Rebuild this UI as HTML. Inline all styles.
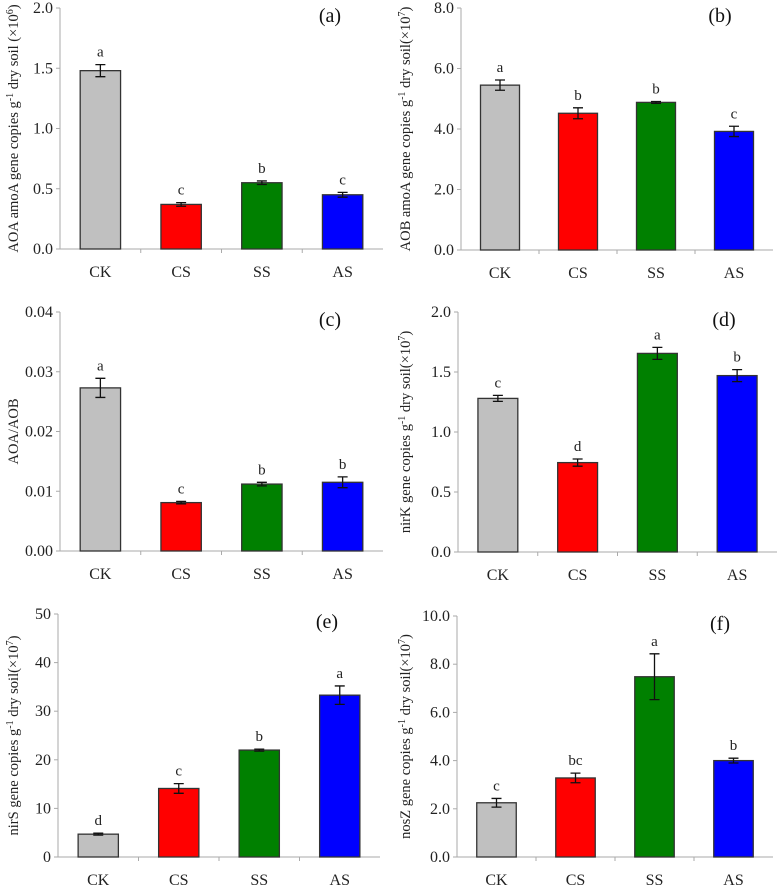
<!DOCTYPE html>
<html><head><meta charset="utf-8"><style>
body{margin:0;background:#fff}
svg{display:block;font-family:"Liberation Serif",serif}
</style></head><body>
<svg id="chart" width="778" height="885" viewBox="0 0 778 885"></svg>
<script>
const categories = ["CK","CS","SS","AS"];
const colors = ["#c0c0c0","#ff0000","#008000","#0000ff"];
const valsA = [1.48,0.37,0.55,0.45];
const errA = [0.05,0.015,0.015,0.02];
const letA = ["a","c","b","c"];
const valsB = [5.45,4.52,4.88,3.92];
const errB = [0.17,0.18,0.03,0.17];
const letB = ["a","b","b","c"];
const valsC = [0.0273,0.0081,0.0112,0.0115];
const errC = [0.0016,0.0002,0.0003,0.0009];
const letC = ["a","c","b","b"];
const valsD = [1.28,0.745,1.655,1.47];
const errD = [0.025,0.03,0.05,0.05];
const letD = ["c","d","a","b"];
const valsE = [4.7,14.1,22.0,33.3];
const errE = [0.2,1.0,0.2,1.9];
const letE = ["d","c","b","a"];
const valsF = [2.25,3.28,7.48,4.0];
const errF = [0.18,0.2,0.95,0.1];
const letF = ["c","bc","a","b"];
const ticksA = [0,0.5,1.0,1.5,2.0];
const ticksB = [0,2,4,6,8];
const ticksC = [0,0.01,0.02,0.03,0.04];
const ticksD = [0,0.5,1.0,1.5,2.0];
const ticksE = [0,10,20,30,40,50];
const ticksF = [0,2,4,6,8,10];

const NS="http://www.w3.org/2000/svg";
const svg=document.getElementById('chart');
function mk(tag,attrs,parent,text){const e=document.createElementNS(NS,tag);for(const k in attrs)e.setAttribute(k,attrs[k]);if(text!==undefined)e.textContent=text;parent.appendChild(e);return e;}

function panel(id,g,vals,errs,lets,ticks,dec,title,sup,tx){
  const grp=mk('g',{},svg);
  
  
  const max=ticks[ticks.length-1];
  const y=v=>g.yb-(v/max)*(g.yb-g.yt);
  const slot=(g.x1-g.x0)/categories.length;
  const xc=i=>g.x0+slot*(i+0.5);
  const ya=mk('line',{x1:g.x0,y1:g.yt,x2:g.x0,y2:g.yb,stroke:'#aaa','stroke-width':1},grp);
  
  
  const xa=mk('line',{x1:g.x0,y1:g.yb,x2:g.x1,y2:g.yb,stroke:'#aaa','stroke-width':1},grp);
  
  
  ticks.forEach(t=>{
    mk('line',{x1:g.x0-4,y1:y(t),x2:g.x0,y2:y(t),stroke:'#aaa'},grp);
    const tl=mk('text',{x:g.x0-7,y:y(t)+5,'text-anchor':'end','font-size':16,fill:'#222'},grp,t.toFixed(dec));
    
    
  });
  for(let i=1;i<categories.length;i++){
    mk('line',{x1:g.x0+slot*i,y1:g.yb,x2:g.x0+slot*i,y2:g.yb+4,stroke:'#aaa'},grp);
  }
  categories.forEach((c,i)=>{
    const bw=slot*0.5;
    const b=mk('rect',{x:xc(i)-bw/2,y:y(vals[i]),width:bw,height:g.yb-y(vals[i]),fill:colors[i],stroke:'#333','stroke-width':1.3},grp);
    
    
    const top=y(vals[i]+errs[i]),bot=y(vals[i]-errs[i]);
    const eb=mk('path',{d:`M${xc(i)-5},${top}H${xc(i)+5}M${xc(i)},${top}V${bot}M${xc(i)-5},${bot}H${xc(i)+5}`,stroke:'#111','stroke-width':1.3,fill:'none'},grp);
    
    
    const lt=mk('text',{x:xc(i),y:top-8,'text-anchor':'middle','font-size':15,fill:'#222'},grp,lets[i]);
    
    
    const cl=mk('text',{x:xc(i),y:g.yb+28,'text-anchor':'middle','font-size':16,fill:'#222'},grp,c);
    
    
  });
  const pl=mk('text',{x:g.x1-53,y:g.yt+14,'text-anchor':'middle','font-size':20,fill:'#111'},grp,'('+id+')');
  
  
  const cy=(g.yt+g.yb)/2;
  const t=mk('text',{x:0,y:0,'text-anchor':'middle','font-size':14.5,fill:'#222',transform:`translate(${tx},${cy}) rotate(-90)`},grp);
  
  
  if(sup){
    mk('tspan',{},t,title[0]);
    mk('tspan',{'baseline-shift':'super','font-size':10},t,'-1');
    mk('tspan',{},t,title[1]);
    mk('tspan',{'baseline-shift':'super','font-size':10},t,sup);
    mk('tspan',{},t,')');
  } else t.textContent=title;
}
panel('a',{x0:60,x1:383,yt:8,yb:249},valsA,errA,letA,ticksA,1,['AOA amoA gene copies g',' dry soil (×10'],'6',18);
panel('b',{x0:461,x1:773,yt:8,yb:250},valsB,errB,letB,ticksB,1,['AOB amoA gene copies g',' dry soil(×10'],'7',410);
panel('c',{x0:60,x1:383,yt:312,yb:551},valsC,errC,letC,ticksC,2,'AOA/AOB',null,18);
panel('d',{x0:458,x1:777,yt:312,yb:552},valsD,errD,letD,ticksD,1,['nirK gene copies g',' dry soil(×10'],'7',410);
panel('e',{x0:58,x1:380,yt:614,yb:857},valsE,errE,letE,ticksE,0,['nirS gene copies g',' dry soil(×10'],'7',18);
panel('f',{x0:457,x1:773,yt:616,yb:857},valsF,errF,letF,ticksF,1,['nosZ gene copies g',' dry soil(×10'],'7',410);
</script>
</body></html>
